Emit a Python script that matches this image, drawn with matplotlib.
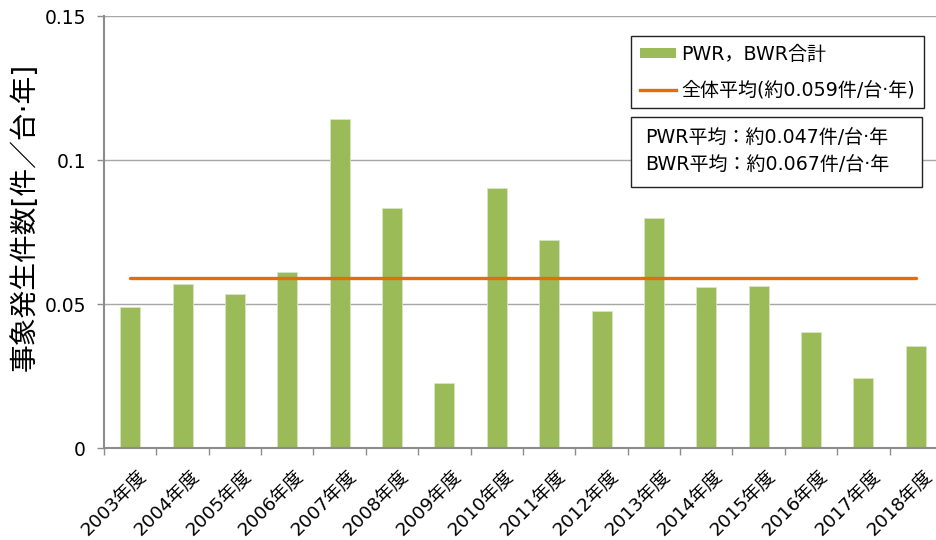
import matplotlib
matplotlib.use('Agg')
import matplotlib.pyplot as plt
from matplotlib.patches import Rectangle, Patch
from matplotlib.lines import Line2D

plt.rcParams['font.family'] = ['DejaVu Sans', 'Noto Sans CJK JP']

years = ['2003年度', '2004年度', '2005年度', '2006年度', '2007年度', '2008年度',
         '2009年度', '2010年度', '2011年度', '2012年度', '2013年度', '2014年度',
         '2015年度', '2016年度', '2017年度', '2018年度']
events = [0.0491, 0.0568, 0.0534, 0.0610, 0.1142, 0.0834, 0.0225, 0.0902,
          0.0723, 0.0475, 0.0800, 0.0560, 0.0562, 0.0404, 0.0242, 0.0354]
overall_avg = 0.059
pwr_avg = 0.047
bwr_avg = 0.067
yticks = [0, 0.05, 0.1, 0.15]
ytick_labels = ['0', '0.05', '0.1', '0.15']

green = '#9BBB59'
orange = '#E46C0A'
axis_gray = '#8c8c8c'
grid_gray = '#a6a6a6'

fig = plt.figure(figsize=(9.37, 5.40), dpi=100)
ax = fig.add_axes([104 / 937, 92 / 540, 838 / 937, 432 / 540])

x = range(len(years))
ax.bar(x, events, width=0.38, color=green, edgecolor='#d9e5c3', linewidth=0.6, zorder=2)
ax.plot([0, len(years) - 1], [overall_avg, overall_avg], color=orange, lw=2.4,
        solid_capstyle='round', zorder=3)

ax.set_xlim(-0.5, len(years) - 0.5)
ax.set_ylim(0, 0.15)
ax.set_yticks(yticks)
ax.set_yticklabels(ytick_labels, fontsize=13.5)
ax.yaxis.grid(True, color=grid_gray, lw=1.0, zorder=0)
ax.set_axisbelow(True)

# category boundaries carry the tick marks, labels sit under each bar
ax.set_xticks([i - 0.5 for i in range(len(years) + 1)])
ax.set_xticklabels([])
ax.tick_params(axis='x', length=5, width=1.0, color=axis_gray)
ax.tick_params(axis='y', length=5, width=1.0, color=axis_gray, pad=8)
for i, lab in enumerate(years):
    ax.text(i + 0.14, -0.0064, lab, rotation=45, ha='right', va='top',
            rotation_mode='anchor', fontsize=13.3)

for side in ['top', 'right']:
    ax.spines[side].set_visible(False)
for side in ['left', 'bottom']:
    ax.spines[side].set_color(axis_gray)
    ax.spines[side].set_linewidth(1.5)

fig.text(25 / 937, 1 - 217 / 540, '事象発生件数[件／台·年]', rotation=90,
         ha='center', va='center', fontsize=20)

handles = [Patch(facecolor=green, edgecolor='none'),
           Line2D([], [], color=orange, lw=2.4)]
labels = ['PWR，BWR合計', '全体平均(約{:.3f}件/台·年)'.format(overall_avg)]
leg = ax.legend(handles, labels, loc='upper left',
                bbox_to_anchor=(631 / 937, 1 - 36 / 540), bbox_transform=fig.transFigure,
                fontsize=13.7, handlelength=1.9, handleheight=0.45, handletextpad=0.3,
                labelspacing=0.9, borderpad=0.45, borderaxespad=0, fancybox=False,
                framealpha=1, edgecolor='#222222')
leg.get_frame().set_linewidth(1.0)

box = Rectangle((631 / 937, 1 - 187 / 540), 291 / 937, 70 / 540, transform=fig.transFigure,
                facecolor='white', edgecolor='#222222', lw=1.0, zorder=5)
fig.patches.append(box)
fig.text(645 / 937, 1 - 137 / 540, 'PWR平均：約{:.3f}件/台·年'.format(pwr_avg),
         ha='left', va='center', fontsize=13.7, zorder=6)
fig.text(645 / 937, 1 - 164 / 540, 'BWR平均：約{:.3f}件/台·年'.format(bwr_avg),
         ha='left', va='center', fontsize=13.7, zorder=6)

fig.savefig('out.png', dpi=100)
